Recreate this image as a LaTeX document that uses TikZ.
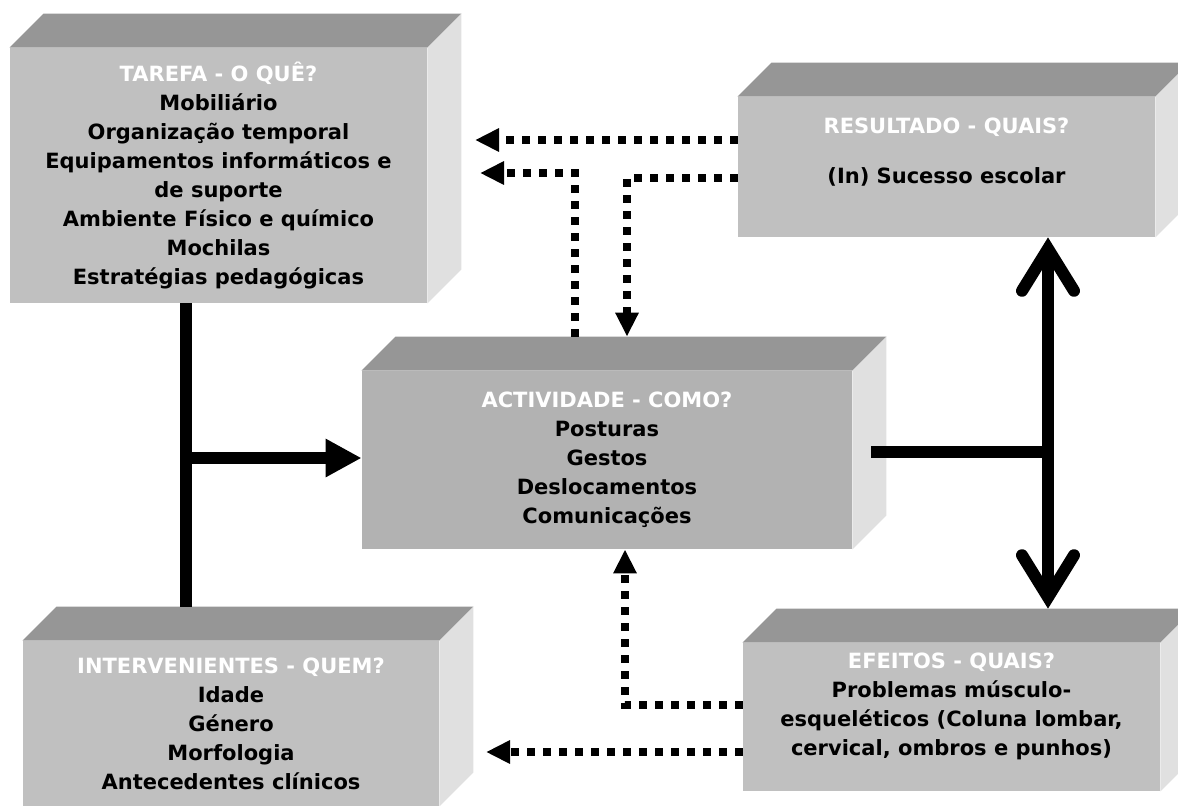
\documentclass[tikz,border=0pt]{standalone}
\usepackage{fontspec}
\setmainfont{DejaVu Sans}
\usetikzlibrary{arrows.meta}

\definecolor{frente}{HTML}{C0C0C0}
\definecolor{frenteesc}{HTML}{B2B2B2}
\definecolor{topo}{HTML}{969696}
\definecolor{lado}{HTML}{E0E0E0}
\newcommand{\titulo}[1]{\textcolor{white}{#1}\\}

\tikzset{
  caixa/.style={rectangle, fill=frente, inner sep=0pt, align=center,
    font=\fontsize{10.5}{14.5}\selectfont\bfseries},
  grossa/.style={line width=6pt},
  seta/.style={-{Triangle[length=18pt,width=18pt]}},
  dupla/.style={{Straight Barb[length=21pt,width=26pt,line cap=round]}-{Straight Barb[length=21pt,width=26pt,line cap=round]}},
  pontos/.style={line width=4pt, dash pattern=on 4pt off 4pt,
    -{Triangle[length=12pt,width=11pt]}}
}

\begin{document}
\begin{tikzpicture}[x=0.5pt,y=-0.5pt]
    \useasboundingbox (0,0) rectangle (1178,805);
    \clip (0,0) rectangle (1178,805);

    % caixas
    \node[caixa, minimum width=208.5pt, minimum height=127.5pt] (tarefa) at (218.5,175.5)
        {\titulo{TAREFA - O QUÊ?}Mobiliário\\Organização temporal\\Equipamentos informáticos e\\de suporte\\Ambiente Físico e químico\\Mochilas\\Estratégias pedagógicas};
    \node[caixa, minimum width=208.5pt, minimum height=70pt] (resultado) at (946.5,167)
        {\textcolor{white}{RESULTADO - QUAIS?}\\[10.5pt](In) Sucesso escolar\\[2pt]\mbox{}};
    \node[caixa, fill=frenteesc, minimum width=245pt, minimum height=89pt] (actividade) at (607,460)
        {\titulo{ACTIVIDADE - COMO?}Posturas\\Gestos\\Deslocamentos\\Comunicações};
    \node[caixa, minimum width=208pt, minimum height=82.5pt] (intervenientes) at (231,723.5)
        {\titulo{INTERVENIENTES - QUEM?}Idade\\Género\\Morfologia\\Antecedentes clínicos};
    \node[caixa, minimum width=208.5pt, minimum height=74pt] (efeitos) at (951.5,717)
        {\titulo{EFEITOS - QUAIS?}Problemas músculo-\\esqueléticos (Coluna lombar,\\cervical, ombros e punhos)\\[-2pt]\mbox{}};

    % faces de cima e do lado
    \foreach \c in {tarefa,resultado,actividade,intervenientes,efeitos}{
        \fill[topo] (\c.north west) -- ++(34,-34) -- ([shift={(34,-34)}]\c.north east) -- (\c.north east) -- cycle;
        \fill[lado] (\c.north east) -- ++(34,-34) -- ([shift={(34,-34)}]\c.south east) -- (\c.south east) -- cycle;
    }

    % ligacoes cheias
    \coordinate (tronco) at (186,458);
    \coordinate (eixo) at (1048,452);
    \draw[grossa] (tarefa.south -| tronco) -- ([yshift=17pt]intervenientes.north -| tronco);
    \draw[grossa, seta] (tronco) -- (actividade.west |- tronco);
    \draw[grossa] ([xshift=9.5pt]actividade.east |- eixo) -- (eixo);
    \draw[grossa, dupla] (resultado.south -| eixo) -- ([yshift=17pt]efeitos.north -| eixo);

    % ligacoes pontilhadas
    \coordinate (d1) at (475,140);
    \coordinate (d2) at (480,173);
    \coordinate (d3) at (627,178);
    \coordinate (d4) at (625,705);
    \coordinate (d5) at (486,752);
    \draw[pontos] (resultado.west |- d1) -- (d1);
    \draw[pontos] ([yshift=17pt]actividade.north -| 575,0) |- (d2);
    \draw[pontos] (resultado.west |- d3) -| ([yshift=17pt]actividade.north -| d3);
    \draw[pontos] (efeitos.west |- d4) -| (actividade.south -| d4);
    \draw[pontos] (efeitos.west |- d5) -- (d5);
\end{tikzpicture}
\end{document}
